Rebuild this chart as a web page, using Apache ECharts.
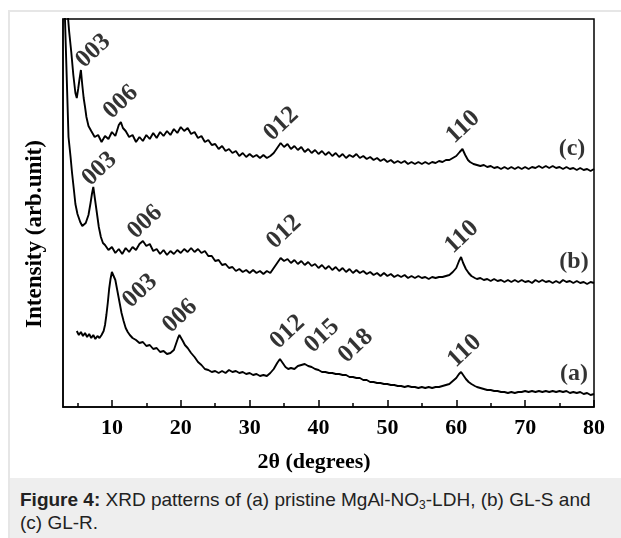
<!DOCTYPE html>
<html>
<head>
<meta charset="utf-8">
<script src="https://cdn.jsdelivr.net/npm/echarts@6/dist/echarts.min.js"></script>
<style>
    html, body { margin: 0; padding: 0; background: #fff; }
    #page { position: relative; width: 621px; height: 538px; overflow: hidden; }
    #frame { position: absolute; left: 8px; top: 10px; width: 700px; height: 560px; border: 2px solid #e6e6e6; }
    #main { position: absolute; left: 0; top: 0; width: 621px; height: 478px; }
    #caption {
        position: absolute; left: 10px; top: 478px; width: 611px; height: 60px;
        background: #eeeeee; box-sizing: border-box; padding: 10px 0 0 10px;
        font-family: "Liberation Sans", Arial, sans-serif; font-size: 19px; line-height: 23px; color: #222;
    }
    #caption sub { font-size: 12px; line-height: 0; vertical-align: -3px; }
</style>
</head>
<body>
<div id="page">
    <div id="frame"></div>
    <div id="main"></div>
    <div id="caption"><b>Figure 4:</b> XRD patterns of (a) pristine MgAl-NO<sub>3</sub>-LDH, (b) GL-S and<br>(c) GL-R.</div>
</div>
<script>
// 2theta (deg), intensity (arb.)
var curveC = [
    [3.0, 480], [3.5, 400], [3.8, 375], [4.1, 355], [4.4, 332], [4.7, 314], [4.9, 309], [5.1, 318], [5.3, 328], [5.5, 337],
    [5.7, 322], [5.9, 309], [6.1, 300], [6.3, 290], [6.6, 281], [7.0, 276], [7.5, 270], [8.0, 272], [8.5, 265], [9.0, 271],
    [9.5, 268], [10.0, 275], [10.5, 271], [11.0, 282], [11.3, 285], [11.6, 279], [12.0, 276], [12.5, 270], [13.0, 272], [13.5, 265],
    [14.0, 270], [14.5, 266], [15.0, 272], [15.5, 268], [16.0, 274], [16.5, 269], [17.0, 275], [17.5, 271], [18.0, 276], [18.5, 272],
    [19.0, 278], [19.5, 274], [20.0, 280], [20.5, 276], [21.0, 279], [21.5, 273], [22.0, 275], [22.5, 269], [23.0, 271], [23.5, 265],
    [24.0, 267], [24.5, 262], [25.0, 263], [25.5, 258], [26.0, 261], [26.5, 256], [27.0, 258], [27.5, 254], [28.0, 256], [28.5, 251],
    [29.0, 254], [29.5, 250], [30.0, 253], [30.5, 250], [31.0, 252], [31.5, 249], [32.0, 252], [32.5, 249], [33.0, 251], [33.5, 254],
    [34.0, 259], [34.5, 264], [35.0, 260], [35.5, 263], [36.0, 258], [36.5, 261], [37.0, 257], [37.5, 260], [38.0, 255], [38.5, 258],
    [39.0, 254], [39.5, 257], [40.0, 253], [40.5, 256], [41.0, 252], [41.5, 255], [42.0, 251], [42.5, 254], [43.0, 250], [43.5, 253],
    [44.0, 249], [44.5, 252], [45.0, 250], [45.5, 253], [46.0, 249], [46.5, 251], [47.0, 248], [47.5, 250], [48.0, 247], [48.5, 249],
    [49.0, 246], [49.5, 248], [50.0, 245], [50.5, 247], [51.0, 244], [51.5, 246], [52.0, 244], [52.5, 246], [53.0, 243], [53.5, 245],
    [54.0, 243], [54.5, 245], [55.0, 243], [55.5, 245], [56.0, 243], [56.5, 245], [57.0, 244], [57.5, 246], [58.0, 245], [58.5, 247],
    [59.0, 247], [59.5, 249], [60.0, 251], [60.5, 255], [60.9, 258], [61.3, 252], [61.7, 247], [62.0, 245], [62.5, 243], [63.0, 242],
    [63.5, 241], [64.0, 242], [64.5, 240], [65.0, 241], [65.5, 239], [66.0, 240], [66.5, 238], [67.0, 240], [67.5, 238], [68.0, 240],
    [68.5, 238], [69.0, 240], [69.5, 238], [70.0, 240], [70.5, 238], [71.0, 240], [71.5, 239], [72.0, 241], [72.5, 239], [73.0, 241],
    [73.5, 239], [74.0, 241], [74.5, 239], [75.0, 240], [75.5, 238], [76.0, 240], [76.5, 238], [77.0, 239], [77.5, 237], [78.0, 239],
    [78.5, 237], [79.0, 238], [79.5, 236], [80.0, 238]
];
var curveB = [
    [3.0, 440], [3.2, 385], [3.5, 316], [3.7, 270], [4.0, 250], [4.2, 235], [4.5, 216], [4.7, 203], [5.0, 193], [5.4, 185],
    [5.7, 181], [5.9, 180], [6.2, 184], [6.6, 192], [6.9, 204], [7.1, 213], [7.3, 220], [7.5, 210], [7.8, 195], [8.1, 180],
    [8.4, 170], [8.7, 164], [9.0, 162], [9.5, 157], [10.0, 160], [10.5, 154], [11.0, 158], [11.5, 153], [12.0, 159], [12.5, 155],
    [13.0, 160], [13.5, 157], [14.0, 163], [14.5, 166], [15.0, 161], [15.5, 163], [16.0, 156], [16.5, 158], [17.0, 153], [17.5, 157],
    [18.0, 152], [18.5, 156], [19.0, 153], [19.5, 157], [20.0, 154], [20.5, 158], [21.0, 155], [21.5, 159], [22.0, 155], [22.5, 158],
    [23.0, 154], [23.5, 156], [24.0, 151], [24.5, 151], [25.0, 146], [25.5, 147], [26.0, 142], [26.5, 143], [27.0, 139], [27.5, 140],
    [28.0, 136], [28.5, 138], [29.0, 135], [29.5, 137], [30.0, 134], [30.5, 137], [31.0, 134], [31.5, 136], [32.0, 133], [32.5, 136],
    [33.0, 134], [33.5, 139], [34.0, 144], [34.5, 149], [35.0, 146], [35.5, 148], [36.0, 144], [36.5, 147], [37.0, 143], [37.5, 146],
    [38.0, 142], [38.5, 145], [39.0, 141], [39.5, 143], [40.0, 139], [40.5, 142], [41.0, 138], [41.5, 141], [42.0, 137], [42.5, 140],
    [43.0, 136], [43.5, 139], [44.0, 135], [44.5, 138], [45.0, 134], [45.5, 137], [46.0, 134], [46.5, 136], [47.0, 133], [47.5, 135],
    [48.0, 132], [48.5, 134], [49.0, 131], [49.5, 134], [50.0, 131], [50.5, 133], [51.0, 130], [51.5, 132], [52.0, 130], [52.5, 132],
    [53.0, 129], [53.5, 131], [54.0, 129], [54.5, 131], [55.0, 129], [55.5, 130], [56.0, 128], [56.5, 130], [57.0, 129], [57.5, 130],
    [58.0, 130], [58.5, 131], [59.0, 132], [59.5, 135], [60.0, 139], [60.4, 146], [60.7, 150], [61.0, 144], [61.4, 138], [61.8, 134],
    [62.2, 131], [62.7, 129], [63.0, 128], [63.5, 129], [64.0, 127], [64.5, 128], [65.0, 126], [65.5, 128], [66.0, 126], [66.5, 127],
    [67.0, 125], [67.5, 127], [68.0, 125], [68.5, 127], [69.0, 125], [69.5, 127], [70.0, 125], [70.5, 126], [71.0, 124], [71.5, 127],
    [72.0, 125], [72.5, 127], [73.0, 125], [73.5, 126], [74.0, 124], [74.5, 126], [75.0, 124], [75.5, 127], [76.0, 125], [76.5, 126],
    [77.0, 124], [77.5, 126], [78.0, 124], [78.5, 125], [79.0, 123], [79.5, 125], [80.0, 124]
];
var curveA = [
    [4.9, 76], [5.2, 72], [5.5, 75], [5.8, 71], [6.1, 74], [6.4, 70], [6.7, 73], [7.0, 69], [7.3, 72], [7.6, 68],
    [7.9, 71], [8.2, 69], [8.5, 72], [8.8, 76], [9.0, 82], [9.2, 92], [9.4, 104], [9.6, 118], [9.8, 128], [10.0, 135],
    [10.2, 133], [10.5, 127], [10.8, 116], [11.1, 105], [11.4, 94], [11.7, 86], [12.0, 79], [12.3, 75], [12.6, 72], [13.0, 69],
    [13.5, 67], [14.0, 64], [14.5, 65], [15.0, 61], [15.5, 62], [16.0, 58], [16.5, 59], [17.0, 55], [17.5, 56], [18.0, 53],
    [18.5, 54], [19.0, 57], [19.3, 63], [19.6, 69], [19.8, 72], [20.0, 70], [20.3, 66], [20.6, 62], [21.0, 59], [21.5, 54],
    [22.0, 50], [22.5, 45], [23.0, 42], [23.5, 38], [24.0, 37], [24.5, 35], [25.0, 36], [25.5, 34], [26.0, 36], [26.5, 34],
    [27.0, 37], [27.5, 35], [28.0, 36], [28.5, 34], [29.0, 35], [29.5, 33], [30.0, 34], [30.5, 32], [31.0, 33], [31.5, 31],
    [32.0, 32], [32.5, 31], [33.0, 34], [33.5, 38], [34.0, 44], [34.4, 48], [34.8, 44], [35.2, 40], [35.6, 38], [36.0, 39],
    [36.5, 38], [37.0, 41], [37.5, 42], [38.0, 43], [38.5, 41], [39.0, 40], [39.5, 38], [40.0, 37], [40.5, 35], [41.0, 35],
    [41.5, 34], [42.0, 34], [42.5, 33], [43.0, 33], [43.5, 32], [44.0, 32], [44.5, 30], [45.0, 30], [45.5, 29], [46.0, 29],
    [46.5, 27], [47.0, 27], [47.5, 25], [48.0, 25], [48.5, 24], [49.0, 24], [49.5, 23], [50.0, 23], [50.5, 22], [51.0, 22],
    [51.5, 21], [52.0, 21], [52.5, 20], [53.0, 21], [53.5, 20], [54.0, 20], [54.5, 19], [55.0, 20], [55.5, 19], [56.0, 20],
    [56.5, 19], [57.0, 20], [57.5, 20], [58.0, 21], [58.5, 22], [59.0, 23], [59.5, 26], [60.0, 29], [60.4, 33], [60.7, 35],
    [61.0, 32], [61.4, 28], [61.8, 25], [62.2, 23], [62.7, 21], [63.0, 20], [63.5, 19], [64.0, 18], [64.5, 17], [65.0, 17],
    [65.5, 16], [66.0, 16], [66.5, 15], [67.0, 15], [67.5, 14], [68.0, 15], [68.5, 14], [69.0, 15], [69.5, 15], [70.0, 16],
    [70.5, 15], [71.0, 16], [71.5, 15], [72.0, 16], [72.5, 15], [73.0, 16], [73.5, 15], [74.0, 16], [74.5, 15], [75.0, 16],
    [75.5, 15], [76.0, 16], [76.5, 14], [77.0, 15], [77.5, 14], [78.0, 15], [78.5, 13], [79.0, 14], [79.5, 12], [80.0, 13]
];

var majorTicks = [10, 20, 30, 40, 50, 60, 70, 80];
var minorTicks = [5, 15, 25, 35, 45, 55, 65, 75];

// reflection indices and where they sit (x in 2theta, y in intensity)
var peakNames = ['003', '006', '012', '110', '003', '006', '012', '110', '003', '006', '012', '015', '018', '110'];
var peakX = [7.3, 11.3, 34.6, 61.0, 8.2, 14.8, 35.0, 60.8, 14.1, 19.9, 35.5, 40.5, 45.4, 61.2];
var peakY = [356, 305, 283, 280, 238, 185, 175, 170, 116, 91, 75, 71, 61, 56];

var sampleNames = ['(c)', '(b)', '(a)'];
var sampleX = [76.8, 77.1, 77.1];
var sampleY = [258, 145, 33];

var serif = '"Liberation Serif", "Times New Roman", serif';

var myChart = echarts.init(document.getElementById('main'));

var peakData = peakNames.map(function (n, i) { return { name: n, value: [peakX[i], peakY[i]] }; });
var sampleData = sampleNames.map(function (n, i) { return { name: n, value: [sampleX[i], sampleY[i]] }; });

function curve(data) {
    return {
        type: 'line',
        data: data,
        showSymbol: false,
        clip: true,
        silent: true,
        lineStyle: { color: '#000', width: 1.9 }
    };
}

var option = {
    animation: false,
    grid: {
        left: 63, right: 27, top: 19, bottom: 71,
        show: true, borderColor: '#000', borderWidth: 1.5
    },
    xAxis: [
        {
            type: 'value', min: 2.9, max: 80,
            axisLine: { show: true, lineStyle: { color: '#000', width: 1.5 } },
            axisTick: { show: true, inside: true, length: 7, customValues: majorTicks, lineStyle: { color: '#000', width: 1.5 } },
            axisLabel: { customValues: majorTicks, color: '#000', fontFamily: serif, fontWeight: 'bold', fontSize: 22, margin: 10 },
            splitLine: { show: false }
        },
        {
            type: 'value', min: 2.9, max: 80, position: 'bottom',
            axisLine: { show: false },
            axisTick: { show: true, inside: true, length: 4, customValues: minorTicks, lineStyle: { color: '#000', width: 1.5 } },
            axisLabel: { show: false },
            splitLine: { show: false }
        }
    ],
    yAxis: {
        type: 'value', min: 0, max: 388,
        axisLine: { show: true, lineStyle: { color: '#000', width: 1.5 } },
        axisTick: { show: false },
        axisLabel: { show: false },
        splitLine: { show: false }
    },
    graphic: [
        {
            type: 'text', x: 35, y: 234, rotation: Math.PI / 2,
            style: { text: 'Intensity (arb.unit)', fill: '#000', font: 'bold 23px ' + serif, textAlign: 'center', textVerticalAlign: 'middle' }
        },
        {
            type: 'text', x: 314, y: 462,
            style: { text: '2θ (degrees)', fill: '#000', font: 'bold 22px ' + serif, textAlign: 'center', textVerticalAlign: 'middle' }
        }
    ],
    series: [
        curve(curveC),
        curve(curveB),
        curve(curveA),
        {
            type: 'scatter', data: peakData, symbolSize: 0, silent: true,
            label: { show: true, position: 'inside', formatter: '{b}', rotate: 43, color: '#000', fontFamily: serif, fontWeight: 'bold', fontSize: 25 }
        },
        {
            type: 'scatter', data: sampleData, symbolSize: 0, silent: true,
            label: { show: true, position: 'inside', formatter: '{b}', color: '#000', fontFamily: serif, fontWeight: 'bold', fontSize: 24 }
        }
    ]
};

myChart.setOption(option);
</script>
</body>
</html>
